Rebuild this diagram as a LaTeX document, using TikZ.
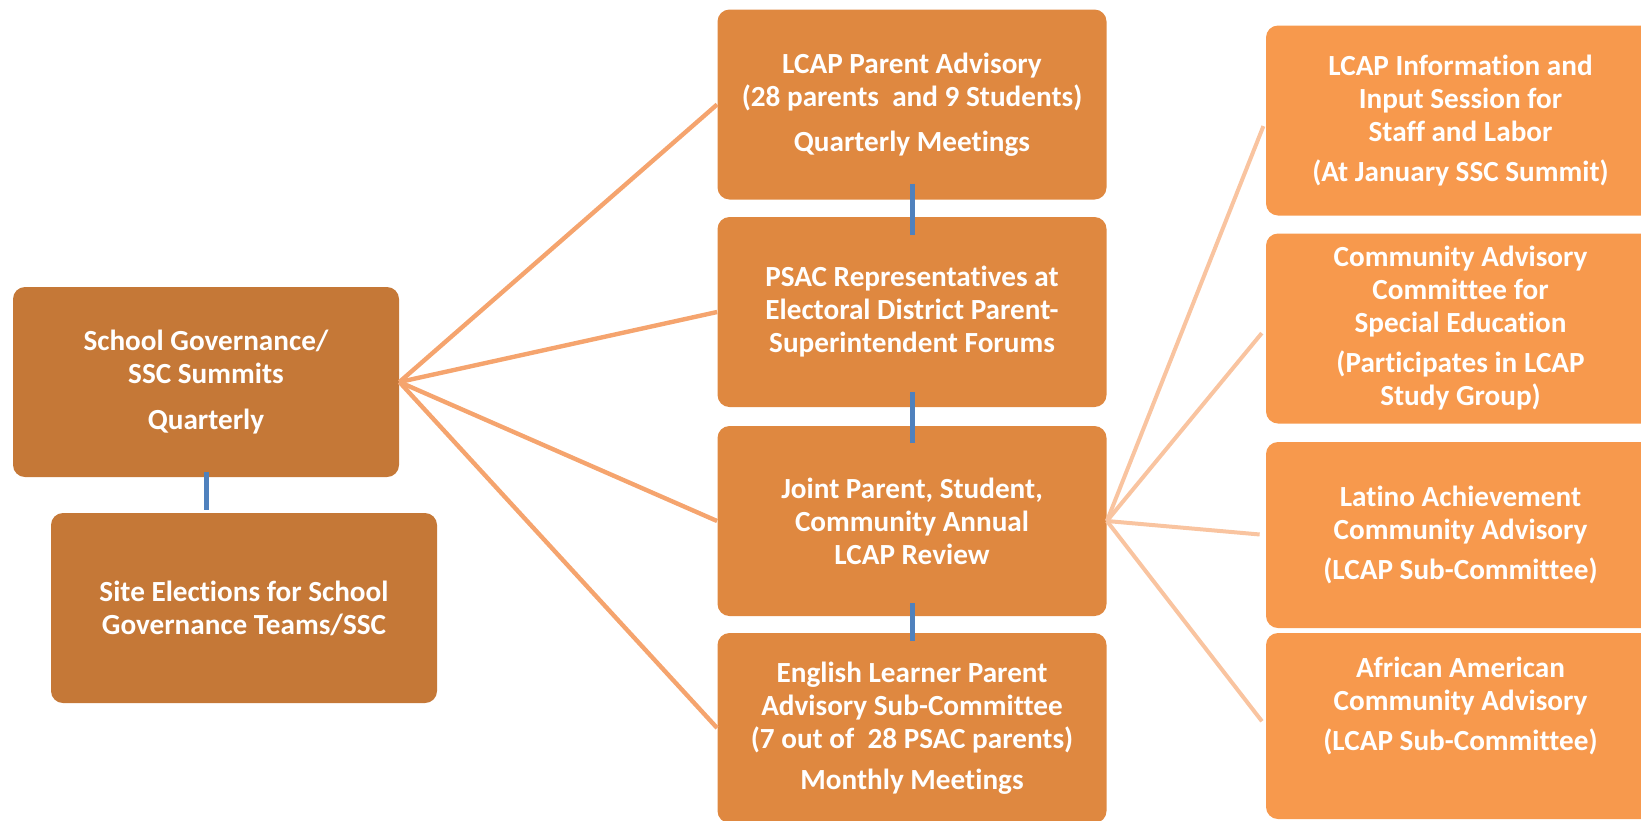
\documentclass[tikz,border=0pt]{standalone}
\usepackage{fontspec}
\setmainfont{Carlito}[Ligatures=NoCommon]
\definecolor{govbrown}{HTML}{C57837}
\definecolor{lcaporange}{HTML}{DF8840}
\definecolor{subfill}{HTML}{F7994D}
\definecolor{fanline}{HTML}{F5A46E}
\definecolor{sublink}{HTML}{F9C4A0}
\definecolor{linkblue}{HTML}{4F81BD}
\begin{document}
\begin{tikzpicture}[x=0.5pt, y=-0.5pt,
    box/.style={rounded corners=6pt, text=white, align=center, inner sep=2pt,
      font=\fontsize{14.6}{16.5}\selectfont\bfseries,
      minimum width=193pt, minimum height=95pt},
    govbox/.style={box, fill=govbrown},
    midbox/.style={box, fill=lcaporange, minimum width=194.5pt},
    sidebox/.style={box, fill=subfill, minimum width=194.5pt},
    fan/.style={draw=fanline, line width=2.2pt},
    subfan/.style={draw=sublink, line width=2pt, shorten >=3pt},
    vlink/.style={draw=linkblue, line width=2.5pt}]
    \clip (0,0) rectangle (1641,820);

    % School governance column
    \node[govbox] (summit) at (206,382) {School Governance/\\SSC Summits\\[6.5pt]Quarterly};
    \node[govbox] (site) at (244,608) {Site Elections for School\\Governance Teams/SSC};

    % LCAP column
    \node[midbox] (advisory) at (912,104.5) {LCAP Parent Advisory\\(28 parents\ \ and 9 Students)\\[6pt]Quarterly Meetings};
    \node[midbox] (psac) at (912,312) {PSAC Representatives at\\Electoral District Parent-\\Superintendent Forums};
    \node[midbox] (review) at (912,521) {Joint Parent, Student,\\Community Annual\\LCAP Review};
    \node[midbox] (elac) at (912,728) {English Learner Parent\\Advisory Sub-Committee\\(7 out of\ \ 28 PSAC parents)\\[4pt]Monthly Meetings};

    % Committees feeding the review
    \node[sidebox] (staff) at (1460.5,120.5) {LCAP Information and\\Input Session for\\Staff and Labor\\[3.5pt](At January SSC Summit)};
    \node[sidebox] (cac) at (1460.5,328.5) {Community Advisory\\Committee for\\Special Education\\[3.5pt](Participates in LCAP\\Study Group)};
    \node[sidebox, minimum height=93pt] (latino) at (1460.5,535) {Latino Achievement\\Community Advisory\\[3.5pt](LCAP Sub-Committee)};
    \node[sidebox, minimum height=93pt, text depth=22pt] (african) at (1460.5,726) {African American\\Community Advisory\\[3.5pt](LCAP Sub-Committee)};

    % Fan out from the summits
    \foreach \t in {advisory, psac, review, elac}
        \draw[fan] (summit.east) -- (\t.west);

    % Fan out from the review
    \foreach \t in {staff, cac, latino, african}
        \draw[subfan] (review.east) -- (\t.west);

    % Vertical links
    \draw[vlink, shorten <=-2.5pt, shorten >=1.5pt] (summit.south) -- (summit.south |- site.north);
    \draw[vlink, shorten <=-8pt, shorten >=-9pt] (advisory.south) -- (psac.north);
    \draw[vlink, shorten <=-7.5pt, shorten >=-8.5pt] (psac.south) -- (review.north);
    \draw[vlink, shorten <=-6.5pt, shorten >=-4pt] (review.south) -- (elac.north);
\end{tikzpicture}
\end{document}
